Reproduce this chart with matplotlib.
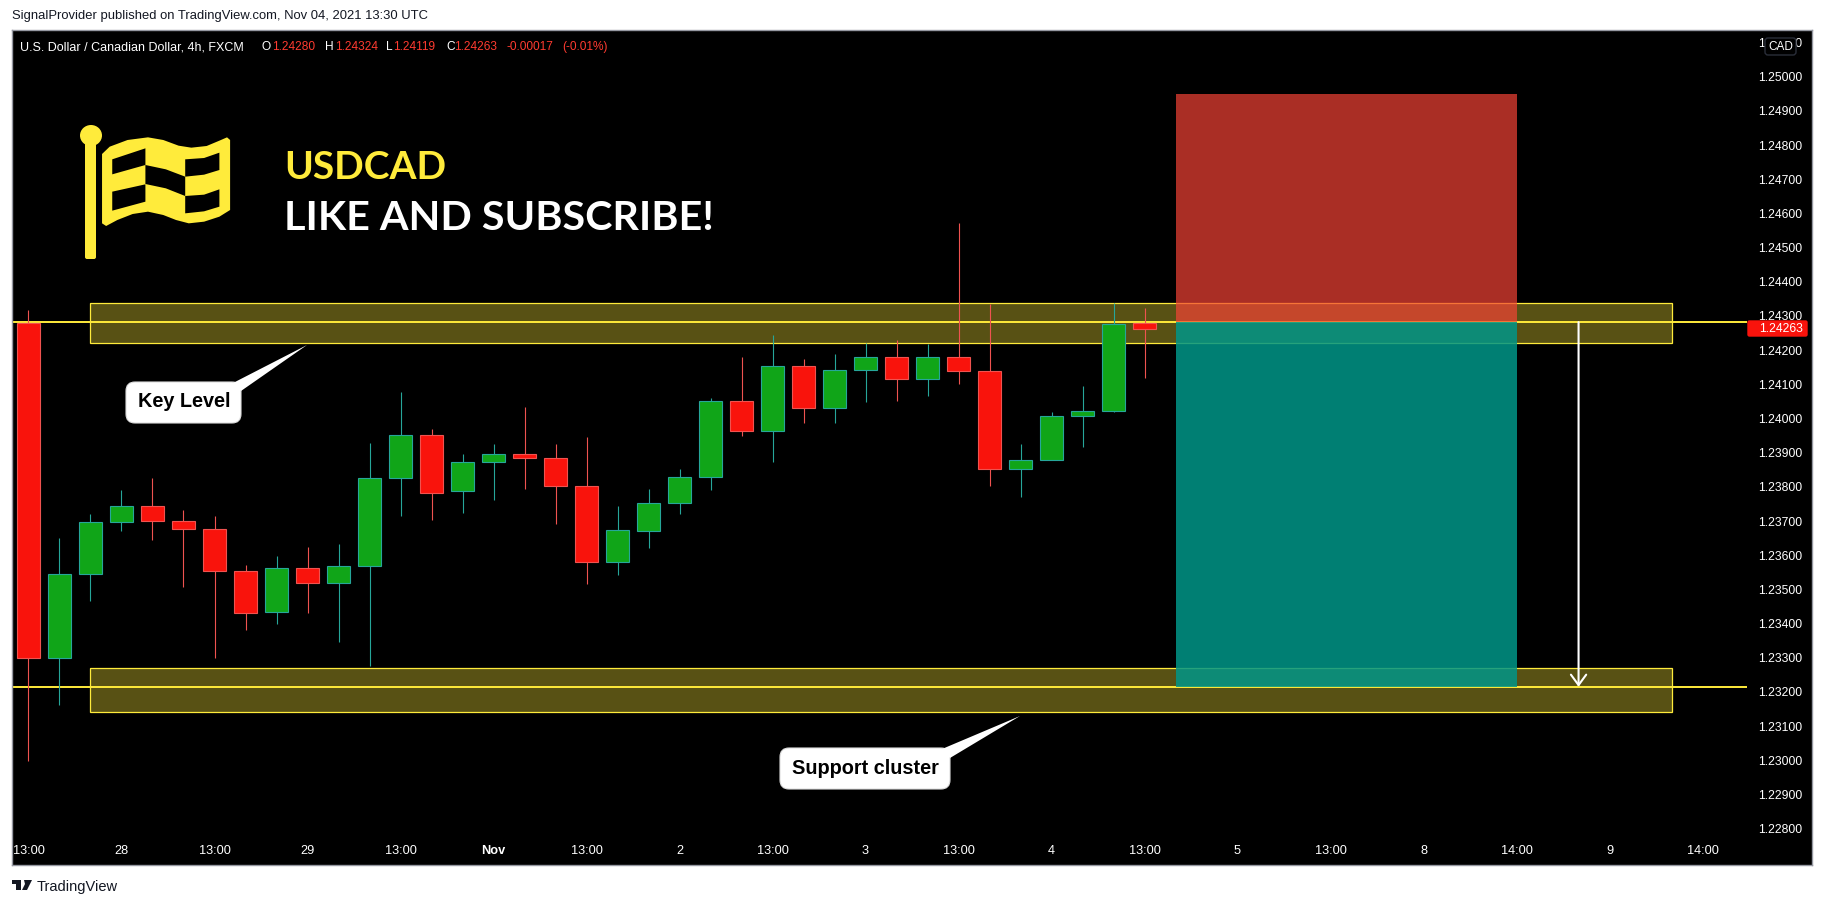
import matplotlib
matplotlib.use("Agg")
import matplotlib.pyplot as plt
from matplotlib.patches import Polygon, FancyBboxPatch, Ellipse, Rectangle
from matplotlib.transforms import Affine2D

W, H = 1824, 905

# candles
opens = [1.24280, 1.23298, 1.23545, 1.23698, 1.23745, 1.23701, 1.23678, 1.23555, 1.23434, 1.23563,
         1.23519, 1.23568, 1.23826, 1.23953, 1.23788, 1.23873, 1.23897, 1.23885, 1.23803, 1.23580,
         1.23672, 1.23753, 1.23829, 1.24052, 1.23963, 1.24155, 1.24031, 1.24142, 1.24181, 1.24116,
         1.24181, 1.24140, 1.23852, 1.23880, 1.24007, 1.24022, 1.24280]
highs = [1.24317, 1.23651, 1.23721, 1.23792, 1.23827, 1.23733, 1.23716, 1.23572, 1.23599, 1.23625,
         1.23634, 1.23929, 1.24079, 1.23970, 1.23897, 1.23924, 1.24033, 1.23926, 1.23945, 1.23743,
         1.23795, 1.23853, 1.24061, 1.24179, 1.24245, 1.24175, 1.24190, 1.24221, 1.24231, 1.24219,
         1.24573, 1.24336, 1.23926, 1.24020, 1.24096, 1.24339, 1.24324]
lows = [1.22998, 1.23162, 1.23466, 1.23671, 1.23644, 1.23507, 1.23298, 1.23381, 1.23400, 1.23431,
        1.23346, 1.23275, 1.23714, 1.23702, 1.23725, 1.23763, 1.23793, 1.23690, 1.23515, 1.23541,
        1.23621, 1.23721, 1.23790, 1.23948, 1.23873, 1.23986, 1.23986, 1.24048, 1.24051, 1.24066,
        1.24101, 1.23804, 1.23770, 1.23880, 1.23917, 1.24018, 1.24119]
closes = [1.23298, 1.23546, 1.23698, 1.23745, 1.23700, 1.23677, 1.23554, 1.23431, 1.23563, 1.23519,
          1.23569, 1.23827, 1.23953, 1.23782, 1.23874, 1.23897, 1.23884, 1.23802, 1.23580, 1.23675,
          1.23754, 1.23830, 1.24052, 1.23963, 1.24155, 1.24031, 1.24143, 1.24181, 1.24116, 1.24181,
          1.24139, 1.23852, 1.23880, 1.24008, 1.24023, 1.24277, 1.24263]

# axis labels
price_ticks = [1.228, 1.229, 1.230, 1.231, 1.232, 1.233, 1.234, 1.235, 1.236, 1.237, 1.238, 1.239,
               1.240, 1.241, 1.242, 1.243, 1.244, 1.245, 1.246, 1.247, 1.248, 1.249, 1.250, 1.251]
time_pos = [0, 3, 6, 9, 12, 15, 18, 21, 24, 27, 30, 33, 36, 39, 42, 45, 48, 51, 54]
time_labels = ["13:00", "28", "13:00", "29", "13:00", "Nov", "13:00", "2", "13:00", "3", "13:00",
               "4", "13:00", "5", "13:00", "8", "14:00", "9", "14:00"]

# drawings
key_zone = [1.24220, 1.24337]
support_zone = [1.23142, 1.23269]
zone_x = [2, 53]
entry = 1.24282
stop = 1.24949
target = 1.23215
position_x = [37, 48]
arrow_x = 50
line_end = 55.44
last_price = "1.24263"

YELLOW = "#ffeb3b"
RED = "#f9130c"
GREEN = "#10a518"
BODY = "Liberation Sans"

fig = plt.figure(figsize=(W / 100, H / 100), dpi=100, facecolor="white")
ax = fig.add_axes([12 / W, 1 - 865 / H, 1800 / W, 835 / H], facecolor="black")
ax.set_xlim(-0.532, 57.53)
ax.set_ylim(1.226938, 1.251366)
for s in ax.spines.values():
    s.set_color("#9598a1")
    s.set_linewidth(1)

# pixel coordinates of the image, y going down
pix = Affine2D().scale(1 / W, -1 / H).translate(0, 1) + fig.transFigure

# zones and levels go under the candles
for zone in (key_zone, support_zone):
    ax.add_patch(Rectangle((zone_x[0], zone[0]), zone_x[1] - zone_x[0], zone[1] - zone[0],
                           facecolor=YELLOW, alpha=0.35, edgecolor="none", zorder=1))
    ax.add_patch(Rectangle((zone_x[0], zone[0]), zone_x[1] - zone_x[0], zone[1] - zone[0],
                           facecolor="none", edgecolor=YELLOW, linewidth=0.9, zorder=1.2))
ax.hlines([entry, target], -0.532, line_end, color=YELLOW, linewidth=1.4, zorder=1.4)

# candles
for i in range(len(opens)):
    up = closes[i] >= opens[i]
    fill = GREEN if up else RED
    edge = "#26a69a" if up else "#ef5350"
    ax.vlines(i, lows[i], highs[i], color=edge, linewidth=0.8, zorder=2)
    ax.bar(i, abs(closes[i] - opens[i]), bottom=min(opens[i], closes[i]), width=0.74,
           color=fill, edgecolor=edge, linewidth=0.8, zorder=3)

# short position box
ax.add_patch(Rectangle((position_x[0], entry), position_x[1] - position_x[0], stop - entry,
                       facecolor="#f44336", alpha=0.7, edgecolor="none", zorder=6))
ax.add_patch(Rectangle((position_x[0], target), position_x[1] - position_x[0], entry - target,
                       facecolor="#009688", alpha=0.85, edgecolor="none", zorder=6))

ax.annotate("", xy=(arrow_x, target), xytext=(arrow_x, entry), zorder=7,
            arrowprops=dict(arrowstyle="->,head_length=0.75,head_width=0.55", color="white", lw=1.5,
                            shrinkA=0, shrinkB=0))

# axes
ax.yaxis.tick_right()
ax.set_yticks(price_ticks)
ax.set_yticklabels(["%.5f" % p for p in price_ticks], family=BODY, fontsize=8.7, color="white")
ax.tick_params(axis="y", length=0, pad=-39)
ax.set_xticks(time_pos)
ax.set_xticklabels(time_labels, family=BODY, fontsize=9.2, color="white")
ax.tick_params(axis="x", length=0, pad=-14.4)
ax.get_xticklabels()[5].set_fontweight("bold")

# last price tag and currency button
fig.add_artist(FancyBboxPatch((1748, 321), 59, 15, boxstyle="round,pad=0,rounding_size=1.5",
                              facecolor=RED, edgecolor=RED, transform=pix, zorder=5))
fig.text(1759, 328.5, last_price, transform=pix, color="white", family=BODY, fontsize=8.7,
         va="center", zorder=6)
fig.add_artist(FancyBboxPatch((1765, 38), 31, 17, boxstyle="round,pad=0,rounding_size=3",
                              facecolor="black", edgecolor="#2a2e39", linewidth=1, transform=pix, zorder=5))
fig.text(1780.5, 46.5, "CAD", transform=pix, color="white", family=BODY, fontsize=8.5,
         ha="center", va="center", zorder=6)

# header and footer
fig.text(12, 16, "SignalProvider published on TradingView.com, Nov 04, 2021 13:30 UTC", transform=pix,
         color="#131722", family=BODY, fontsize=9.35, va="center")
fig.text(20, 47, "U.S. Dollar / Canadian Dollar, 4h, FXCM", transform=pix, color="white", family=BODY,
         fontsize=9.0, va="center")
header = [(262, "O", "white"), (272.5, "1.24280", "#ff3b30"), (325, "H", "white"), (335, "1.24324", "#ff3b30"),
          (386, "L", "white"), (393, "1.24119", "#ff3b30"), (446, "C", "white"), (454, "1.24263", "#ff3b30"),
          (507, "-0.00017", "#ff3b30"), (562, "(-0.01%)", "#ff3b30")]
for x, label, col in header:
    fig.text(x, 47, label, transform=pix, color=col, family=BODY, fontsize=8.6, va="center")

fig.text(37, 887, "TradingView", transform=pix, color="#131722", family=BODY, fontsize=10.5, va="center")
fig.add_artist(Polygon([(12, 880), (21, 880), (21, 890), (16, 890), (16, 884), (12, 884)], closed=True,
                       facecolor="#131722", transform=pix))
fig.add_artist(Polygon([(24, 880), (32, 880), (27, 890), (22, 890), (25, 884)], closed=True,
                       facecolor="#131722", transform=pix))

# big title
fig.text(284, 179, "USDCAD", transform=pix, color=YELLOW, family="Lato", fontweight="bold", fontsize=28, va="baseline")
fig.text(284, 230, "LIKE AND SUBSCRIBE!", transform=pix, color="white", family="Lato", fontweight="bold",
         fontsize=29.7, va="baseline")

# flag logo, points at x*1.96, y*3
def flag_pts(pts):
    return [(x / 1.96, y / 3) for x, y in pts]

flag = [(200, 462), (215, 440), (250, 420), (290, 412), (320, 420), (350, 437), (375, 443), (405, 438), (430, 422),
        (445, 412), (451, 420), (451, 630), (430, 650), (400, 665), (370, 670), (345, 660), (320, 645), (290, 635),
        (260, 642), (230, 660), (208, 678), (200, 670)]
cells = [[(220, 478), (285, 445), (285, 495), (220, 523)],
         [(285, 495), (325, 508), (363, 530), (363, 588), (325, 565), (285, 552)],
         [(363, 478), (400, 474), (430, 458), (430, 510), (400, 524), (363, 530)],
         [(220, 575), (285, 553), (285, 605), (220, 632)],
         [(363, 588), (400, 584), (430, 568), (430, 620), (400, 634), (363, 640)]]
fig.add_artist(Polygon(flag_pts(flag), closed=True, facecolor=YELLOW, edgecolor="none", transform=pix))
for c in cells:
    fig.add_artist(Polygon(flag_pts(c), closed=True, facecolor="black", edgecolor="none", transform=pix))
fig.add_artist(FancyBboxPatch((85, 140), 11, 119, boxstyle="round,pad=0,rounding_size=2", facecolor=YELLOW,
                              edgecolor="none", transform=pix))
fig.add_artist(Ellipse((91, 135.5), 22, 21, facecolor=YELLOW, edgecolor="none", transform=pix))

# callouts
callouts = [("Key Level", (126, 382, 115, 41), [(233, 383), (307, 345), (241, 391)], 184, 401),
            ("Support cluster", (780, 748, 170, 41), [(942, 749), (1020, 716), (950, 758)], 865, 768)]
for label, box, tail, tx, ty in callouts:
    fig.add_artist(FancyBboxPatch(box[:2], box[2], box[3], boxstyle="round,pad=0,rounding_size=9", facecolor="white",
                                  edgecolor="#dddddd", linewidth=0.8, transform=pix))
    fig.add_artist(Polygon(tail, closed=True, facecolor="white", edgecolor="none", transform=pix))
    fig.text(tx, ty, label, transform=pix, color="black", family=BODY, fontweight="bold", fontsize=14.3,
             ha="center", va="center")

fig.savefig("out.png", dpi=100)
